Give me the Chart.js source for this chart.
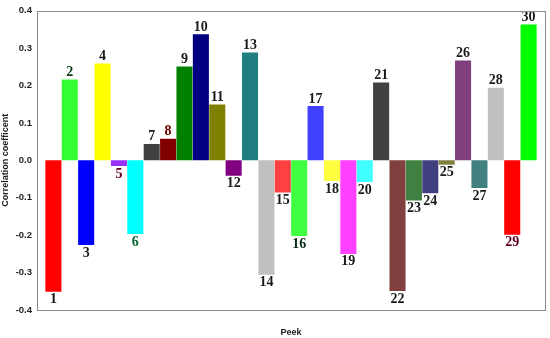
<!DOCTYPE html>
<html lang="en">
<head>
  <meta charset="UTF-8">
  <title>Correlation coefficent per peek</title>
  <script src="https://cdn.jsdelivr.net/npm/chart.js@4"></script>
  <style>
    * { margin: 0; padding: 0; box-sizing: border-box; }
    body { background: #fff; width: 550px; height: 338px; overflow: hidden; }
    #wrap { position: relative; width: 550px; height: 338px; }
  </style>
</head>
<body>
  <div id="wrap"><canvas id="chart"></canvas></div>
  <script>
    // Peek numbers and their correlation coefficents
    const peeks = [1, 2, 3, 4, 5, 6, 7, 8, 9, 10, 11, 12, 13, 14, 15, 16, 17, 18, 19, 20, 21, 22, 23, 24, 25, 26, 27, 28, 29, 30];
    const coeffs = [-0.351, 0.216, -0.226, 0.259, -0.015, -0.197, 0.044, 0.058, 0.251, 0.337,
                    0.149, -0.041, 0.288, -0.306, -0.086, -0.202, 0.145, -0.055, -0.250, -0.058,
                    0.208, -0.349, -0.107, -0.088, -0.012, 0.267, -0.074, 0.194, -0.199, 0.363];
    const barColors = ['#ff0000', '#33ff33', '#0000ff', '#ffff00', '#9933ff', '#00ffff', '#404040', '#800000', '#008000', '#000080',
                       '#808000', '#800080', '#1f7f80', '#c0c0c0', '#ff4040', '#40ff40', '#4040ff', '#ffff40', '#ff40ff', '#40ffff',
                       '#404040', '#804040', '#408040', '#404080', '#808040', '#804080', '#408080', '#c0c0c0', '#ff0000', '#00ff00'];
    const labelColors = ['#1a1a1a', '#0a3a1a', '#1a1a1a', '#1a1a1a', '#660022', '#006633', '#1a1a1a', '#660000', '#1a1a1a', '#1a1a1a',
                         '#1a1a1a', '#1a1a1a', '#1a1a1a', '#1a1a1a', '#1a1a1a', '#0a2a1a', '#1a1a1a', '#1a1a1a', '#1a1a1a', '#1a1a1a',
                         '#1a1a1a', '#1a1a1a', '#1a1a1a', '#1a1a1a', '#1a1a1a', '#1a1a1a', '#1a1a1a', '#1a1a1a', '#660022', '#1a1a1a'];
    const yTicks = [-0.4, -0.3, -0.2, -0.1, 0.0, 0.1, 0.2, 0.3, 0.4];

    // Number above positive bars, below negative ones
    const barLabels = {
      id: 'barLabels',
      afterDatasetsDraw(chart) {
        const ctx = chart.ctx;
        const meta = chart.getDatasetMeta(0);
        ctx.save();
        ctx.font = 'bold 14px "Liberation Serif", "Times New Roman", serif';
        ctx.textAlign = 'center';
        meta.data.forEach((bar, i) => {
          ctx.fillStyle = labelColors[i];
          if (coeffs[i] >= 0) {
            ctx.textBaseline = 'bottom';
            ctx.fillText(String(peeks[i]), bar.x, bar.y);
          } else {
            ctx.textBaseline = 'top';
            ctx.fillText(String(peeks[i]), bar.x, bar.y + 1);
          }
        });
        ctx.restore();
      }
    };

    // Grey box round the plot area
    const frame = {
      id: 'frame',
      afterDraw(chart) {
        const a = chart.chartArea;
        const ctx = chart.ctx;
        ctx.save();
        ctx.strokeStyle = '#8a8a8a';
        ctx.lineWidth = 1;
        ctx.strokeRect(Math.round(a.left) + 0.5, Math.round(a.top) + 0.5, Math.round(a.right - a.left), Math.round(a.bottom - a.top));
        ctx.restore();
      }
    };

    new Chart(document.getElementById('chart'), {
      type: 'bar',
      data: {
        datasets: [{
          data: peeks.map((p, i) => ({ x: p, y: coeffs[i] })),
          backgroundColor: barColors,
          borderWidth: 0,
          barPercentage: 1,
          categoryPercentage: 0.98
        }]
      },
      options: {
        responsive: true,
        maintainAspectRatio: false,
        animation: false,
        layout: { padding: { top: 4, right: 5, left: 0, bottom: 0 } },
        plugins: { legend: { display: false }, tooltip: { enabled: false } },
        scales: {
          x: {
            type: 'linear',
            min: 0,
            max: 31,
            offset: false,
            grid: { display: false, drawTicks: false },
            border: { display: false },
            ticks: { display: false },
            title: { display: true, text: 'Peek', color: '#222', font: { family: 'Arial, "Liberation Sans", sans-serif', size: 9, weight: 'bold' }, padding: { top: 12, bottom: 0 } },
            afterFit: (s) => { s.height = 28; }
          },
          y: {
            min: -0.4,
            max: 0.4,
            afterBuildTicks: (s) => { s.ticks = yTicks.map(v => ({ value: v })); },
            grid: { display: false, drawTicks: false },
            border: { display: false },
            ticks: {
              color: '#222',
              padding: 5,
              font: { family: 'Arial, "Liberation Sans", sans-serif', size: 9.5, weight: 'bold' },
              callback: (v) => v.toFixed(1)
            },
            title: { display: true, text: 'Correlation coefficent', color: '#222', font: { family: 'Arial, "Liberation Sans", sans-serif', size: 9, weight: 'bold' }, padding: { top: 0, bottom: 0 } },
            afterFit: (s) => { s.width = 37; }
          }
        }
      },
      plugins: [barLabels, frame]
    });
  </script>
</body>
</html>
